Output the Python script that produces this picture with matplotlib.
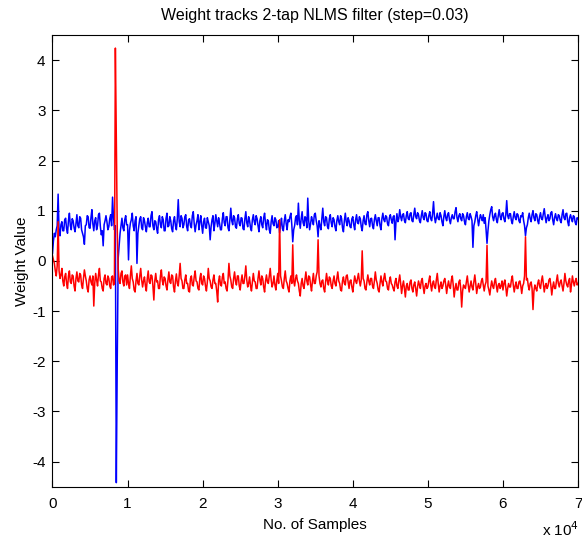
import numpy as np
import matplotlib
matplotlib.use("Agg")
import matplotlib.pyplot as plt
from matplotlib.ticker import FuncFormatter

plt.rcParams["font.family"] = ["Liberation Sans", "DejaVu Sans"]
plt.rcParams["axes.unicode_minus"] = False
plt.rcParams["path.simplify"] = False

# weight tracks in hundredths, one value every SAMPLE_STEP samples
SAMPLE_STEP = 125

w1_x100 = [
    15, 40, 55, 48, 62, 70, 133, 58, 50, 72, 78, 60, 60, 82, 85, 64, 55, 80, 95, 70,
    62, 84, 80, 66, 58, 74, 92, 70, 66, 88, 85, 62, 55, 48, 33, 70, 72, 90, 88, 66,
    65, 86, 102, 74, 60, 80, 86, 62, 70, 92, 95, 68, 52, 60, 30, 72, 80, 90, 78, 62,
    68, 84, 92, 70, 127, 85, 62, 70, -442, -197, 5, 30, 55, 70, 85, 66, 60, 82, 90, 72,
    72, 2, 60, 75, 82, 95, 70, 60, 80, 88, -5, 55, 70, 84, 88, 66, 62, 86, 80, 68,
    58, 76, 85, 68, 68, 90, 98, 70, 62, 80, 78, 64, 55, 82, 90, 72, 66, 88, 82, 60,
    60, 85, 95, 68, 70, 88, 80, 64, 58, 80, 88, 70, 62, 84, 122, 78, 68, 90, 85, 66,
    72, 88, 92, 68, 60, 82, 84, 70, 66, 90, 98, 74, 58, 72, 80, 92, 62, 78, 90, 70,
    55, 78, 85, 66, 65, 86, 78, 70, 42, 68, 82, 90, 60, 74, 92, 80, 68, 86, 75, 62,
    62, 84, 96, 76, 70, 88, 88, 66, 60, 82, 105, 80, 72, 90, 86, 68, 65, 84, 92, 74,
    70, 86, 85, 64, 62, 84, 98, 76, 68, 88, 80, 66, 60, 82, 92, 78, 72, 90, 84, 70,
    58, 80, 88, 72, 66, 86, 95, 74, 62, 82, 80, 62, 55, 78, 90, 74, 70, 86, 82, 66,
    68, 80, 56, 72, 85, 64, 60, 80, 92, 74, 62, 82, 78, 88, 95, 72, 38, 62, 70, 86,
    90, 72, 115, 80, 65, 84, 98, 76, 70, 88, 85, 66, 125, 80, 62, 74, 88, 80, 72, 92,
    95, 80, 70, 48, 80, 70, 62, 84, 105, 78, 70, 88, 86, 68, 64, 84, 92, 76, 68, 86,
    82, 68, 60, 80, 90, 78, 72, 90, 85, 66, 58, 80, 95, 78, 70, 86, 80, 68, 66, 84,
    88, 72, 62, 82, 92, 76, 74, 88, 84, 68, 60, 80, 90, 74, 72, 92, 98, 80, 68, 84,
    85, 70, 64, 82, 92, 80, 70, 86, 86, 70, 62, 84, 95, 82, 78, 90, 88, 74, 70, 86,
    92, 82, 75, 88, 90, 42, 78, 94, 78, 84, 102, 88, 80, 92, 94, 80, 76, 90, 98, 84,
    82, 94, 96, 80, 78, 92, 105, 88, 84, 96, 92, 80, 76, 90, 100, 86, 82, 96, 94, 80,
    78, 90, 98, 84, 80, 94, 118, 88, 76, 86, 95, 84, 82, 96, 90, 78, 70, 88, 100, 86,
    80, 92, 96, 82, 74, 86, 92, 84, 84, 98, 106, 86, 78, 90, 94, 84, 80, 94, 90, 78,
    72, 88, 96, 84, 82, 94, 88, 80, 27, 70, 78, 90, 98, 84, 70, 82, 92, 86, 80, 92,
    75, 86, 62, 35, 60, 80, 92, 102, 108, 88, 80, 90, 95, 82, 76, 90, 102, 88, 82, 94,
    96, 84, 78, 92, 120, 90, 84, 94, 94, 80, 74, 88, 98, 86, 82, 94, 92, 80, 76, 90,
    88, 96, 80, 70, 50, 66, 72, 86, 95, 84, 78, 92, 100, 86, 80, 94, 92, 80, 74, 88,
    96, 84, 82, 94, 104, 88, 76, 86, 92, 80, 84, 96, 98, 82, 72, 86, 94, 84, 80, 92,
    90, 80, 76, 92, 102, 86, 82, 94, 95, 78, 70, 86, 92, 84, 78, 90, 88, 76, 72, 86,
    84,
]

w2_x100 = [
    10, 2, -5, -20, -30, -10, 78, -20, -35, -28, -15, -40, -50, -32, -25, -45, -55, -30, -20, -42,
    -45, -28, -30, -50, -60, -35, -22, -40, -42, -25, -28, -48, -55, -35, -18, -30, -40, -55, -62, -38,
    -30, -42, -48, -30, -90, -45, -25, -38, -50, -28, -15, -40, -42, -55, -60, -35, -28, -45, -48, -30,
    -35, -50, -55, -32, -30, -48, -45, 424, 245, 60, -15, -40, -45, -25, -20, -42, -50, -30, -28, -48,
    -28, -45, -55, -30, -10, -35, -42, -58, -62, -40, -25, -45, -48, -30, -15, -38, -52, -40, -32, -50,
    -60, -35, -20, -42, -45, -28, -30, -50, -78, -40, -25, -42, -40, -55, -55, -30, -18, -40, -48, -32,
    -35, -50, -58, -38, -22, -42, -45, -28, -30, -52, -62, -40, -26, -45, -50, -30, -5, -35, -40, -55,
    -55, -38, -28, -45, -45, -60, -62, -35, -30, -48, -50, -32, -20, -40, -42, -55, -58, -35, -25, -45,
    -48, -30, -35, -50, -60, -42, -15, -35, -40, -52, -55, -38, -28, -45, -45, -60, -82, -40, -30, -48,
    -50, -32, -25, -45, -42, -55, -60, -38, -5, -30, -38, -52, -55, -35, -22, -40, -48, -30, -30, -50,
    -58, -40, -28, -45, -45, -30, -10, -38, -52, -45, -32, -50, -60, -42, -25, -40, -42, -55, -55, -35,
    -20, -38, -48, -30, -35, -52, -62, -40, -28, -42, -45, -30, -15, -38, -52, -45, -30, -48, -58, -40,
    -25, -45, 82, -30, -40, -52, -55, -35, -20, -40, -45, -55, -62, -40, -30, -45, 32, -40, -50, -35,
    -28, -40, -45, -60, -70, -45, -35, -50, -55, -38, -22, -40, -48, -30, -32, -48, -60, -40, -25, -45,
    -45, -30, -22, 42, -30, -45, -52, -40, -38, -55, -62, -42, -25, -40, -48, -32, -35, -50, -55, -40,
    -30, -45, -50, -35, -22, -40, -45, -58, -60, -40, -32, -45, -48, -30, -28, -42, -55, -40, -38, -52,
    -62, -45, -30, -40, -45, -35, -25, -40, -50, -38, 20, -35, -40, -55, -58, -42, -28, -40, -48, -35,
    -35, -50, -55, -40, -22, -38, -45, -58, -62, -45, -30, -42, -50, -35, -25, -40, -42, -55, -58, -40,
    -32, -45, -48, -55, -60, -42, -35, -50, -55, -40, -28, -45, -65, -50, -40, -55, -72, -50, -45, -58,
    -58, -42, -38, -55, -62, -48, -42, -55, -70, -52, -40, -48, -55, -40, -35, -52, -65, -50, -45, -55,
    -52, -40, -30, -48, -60, -45, -40, -52, -55, -38, -25, -45, -62, -50, -42, -55, -50, -40, -35, -48,
    -65, -50, -40, -52, -55, -38, -30, -48, -72, -55, -45, -58, -58, -42, -38, -55, -92, -60, -48, -52,
    -55, -42, -30, -48, -62, -50, -40, -52, -58, -42, -28, -45, -65, -52, -45, -55, -52, -40, -35, -48,
    -60, -48, -42, 31, -50, -58, -68, -52, -40, -50, -55, -42, -35, -50, -62, -48, -45, -55, -50, -40,
    -58, -45, -38, -52, -70, -55, -45, -52, -52, -38, -30, -48, -62, -50, -42, -55, -55, -42, -40, -50,
    -65, -50, -45, -30, 48, -38, -35, -50, -58, -45, -42, -55, -97, -60, -48, -55, -60, -45, -38, -50,
    -55, -40, -30, -45, -62, -50, -45, -55, -50, -38, -35, -48, -68, -52, -42, -55, -55, -40, -28, -45,
    -52, -42, -38, -50, -60, -45, -25, -40, -48, -52, -40, -35, -62, -48, -30, -42, -50, -40, -35, -48,
    -45,
]

x_ticks = [0, 10000, 20000, 30000, 40000, 50000, 60000, 70000]
y_ticks = [-4, -3, -2, -1, 0, 1, 2, 3, 4]

w1 = np.array(w1_x100) / 100.0
w2 = np.array(w2_x100) / 100.0
n1 = np.arange(len(w1)) * SAMPLE_STEP
n2 = np.arange(len(w2)) * SAMPLE_STEP

fig = plt.figure(figsize=(5.82, 5.39), dpi=100)
ax = fig.add_axes([0.0902, 0.097, 0.903, 0.838])

ax.plot(n1, w1, color="#0000ff", lw=1.1)
ax.plot(n2, w2, color="#ff0000", lw=1.1)

ax.set_xlim(0, 70000)
ax.set_ylim(-4.5, 4.5)
ax.set_xticks(x_ticks)
ax.set_yticks(y_ticks)
ax.xaxis.set_major_formatter(FuncFormatter(lambda v, p: f"{v / 1e4:g}"))
ax.tick_params(direction="in", top=True, right=True, length=5, width=0.8,
               labelsize=11)
ax.tick_params(axis="x", pad=7.5)
ax.tick_params(axis="y", pad=5)
for s in ax.spines.values():
    s.set_linewidth(0.8)

ax.set_title("Weight tracks 2-tap NLMS filter (step=0.03)", fontsize=11.5, pad=11)
ax.set_xlabel("No. of Samples", fontsize=11, labelpad=5)
ax.set_ylabel("Weight Value", fontsize=11, labelpad=2)
fig.text(0.931, 0.0, r"x 10$^4$", fontsize=11, va="bottom")

fig.savefig("out.png", dpi=100)
